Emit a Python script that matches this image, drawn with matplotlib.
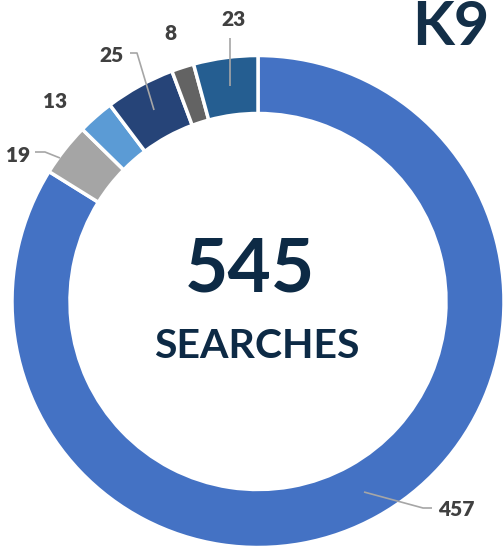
import matplotlib.pyplot as plt

# data
values = [457, 19, 13, 25, 8, 23]
labels = ['457', '19', '13', '25', '8', '23']
colors = ['#4472C4', '#A5A5A5', '#5B9BD5', '#264478', '#636363', '#255E91']
total_text = '545'
sub_text = 'SEARCHES'
title_text = 'K9'

W, H = 504, 550
fig = plt.figure(figsize=(W / 100, H / 100), dpi=100)
ax = fig.add_axes([0, 0, 1, 1])

cx, cy = 258, H - 301.5
R = 246
ring = 58

ax.pie(values, colors=colors, startangle=90, counterclock=False,
       center=(cx, cy), radius=R, frame=True,
       wedgeprops=dict(width=ring, edgecolor='white', linewidth=2.5))
ax.set_xlim(0, W)
ax.set_ylim(0, H)
ax.set_aspect('equal')
ax.axis('off')

lab_font = dict(family=['Lato', 'DejaVu Sans'], fontweight='heavy',
                fontsize=15, color='#404040')

# label positions (pixel coords, y from top) and leader lines
lab_pos = {
    '457': (456, 509),
    '19': (18, 155),
    '13': (55, 101),
    '25': (112, 55),
    '8': (170, 33),
    '23': (234, 20),
}
leaders = {
    '457': [(364, 492), (423, 508), (432, 508)],
    '19': [(35, 152), (45, 152), (60, 158)],
    '25': [(130, 53), (137, 53), (154, 110)],
    '23': [(230, 38), (230, 86)],
}
for lab in labels:
    x, y = lab_pos[lab]
    ax.text(x, H - y, lab, ha='center', va='center', **lab_font)
    if lab in leaders:
        pts = leaders[lab]
        ax.plot([p[0] for p in pts], [H - p[1] for p in pts],
                color='#A6A6A6', lw=1.2, solid_capstyle='butt')

navy = '#0D2A45'
ax.text(cx - 8, H - 270, total_text, ha='center', va='center',
        family=['Lato', 'DejaVu Sans'], fontweight='bold', fontsize=54,
        color=navy)
ax.text(cx - 1, H - 346, sub_text, ha='center', va='center',
        family=['Lato', 'DejaVu Sans'], fontweight='bold', fontsize=29.5,
        color=navy)
ax.text(451, H - 27, title_text, ha='center', va='center',
        family=['Lato', 'DejaVu Sans'], fontweight='bold', fontsize=44,
        color='#132F48')

fig.savefig('out.png', dpi=100)
